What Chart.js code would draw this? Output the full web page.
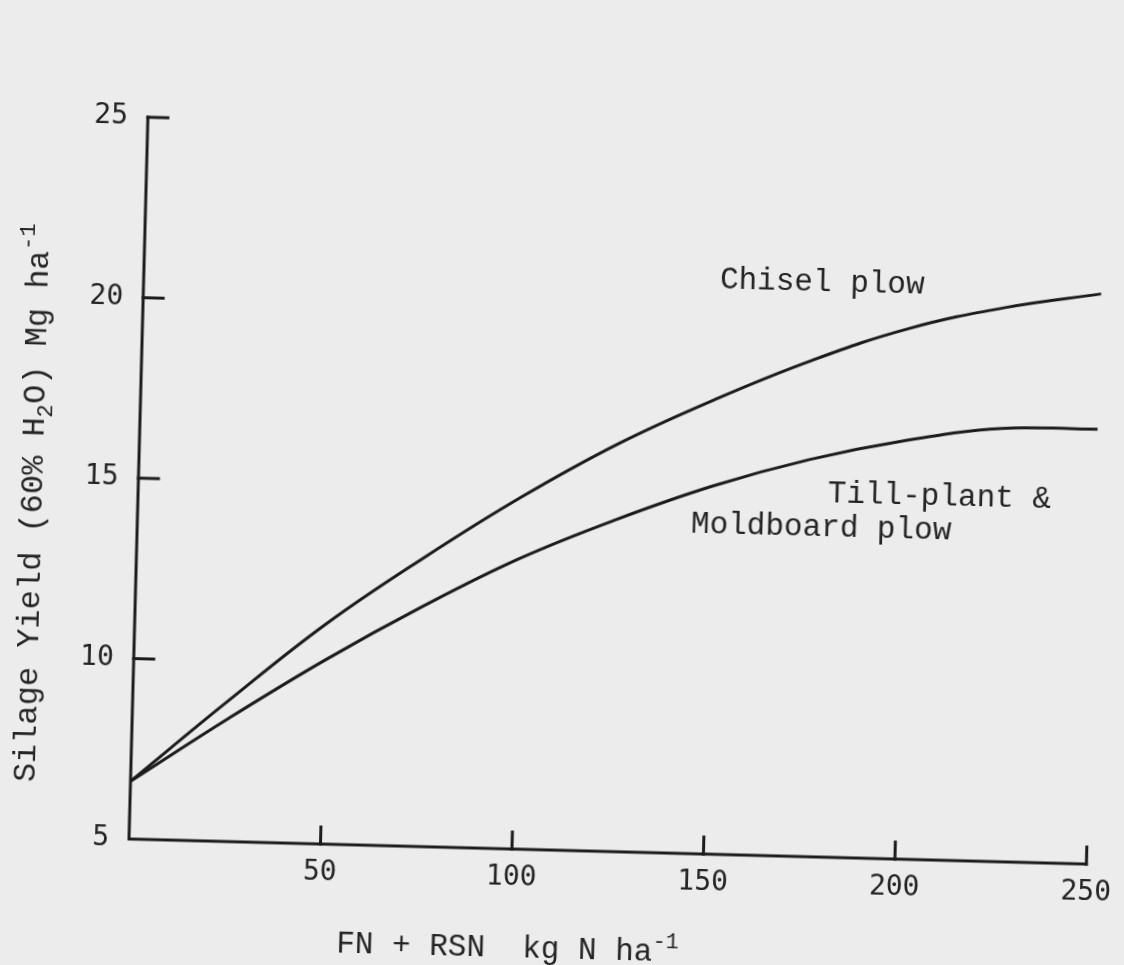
<!DOCTYPE html>
<html>
<head>
<meta charset="utf-8">
<script src="https://cdn.jsdelivr.net/npm/chart.js@4.4.1/dist/chart.umd.min.js"></script>
<style>
    html, body { margin: 0; padding: 0; background: #ececec; }
    #contenedor { width: 1124px; height: 965px; position: relative; overflow: hidden; }
    /* la hoja escaneada quedó un poco girada */
    #rendimientoChart { transform: rotate(1.5deg); transform-origin: 129px 839px; }
</style>
</head>
<body>
<div id="contenedor">
    <canvas id="rendimientoChart" width="1124" height="965"></canvas>
</div>
<script>
// N aplicado (FN + RSN), kg N/ha
const nitrogeno = [0, 25, 50, 75, 100, 125, 150, 175, 200, 225, 250];
// rendimiento de ensilaje, Mg/ha
const cincel = [6.6, 8.9, 11.1, 13.0, 14.75, 16.3, 17.6, 18.75, 19.7, 20.35, 20.8];
const labranzaVertedera = [6.6, 8.4, 10.1, 11.65, 13.05, 14.2, 15.2, 16.0, 16.6, 17.0, 17.05];

const ticksX = [50, 100, 150, 200, 250];
const ticksY = [5, 10, 15, 20, 25];

const COLOR_LINEA = '#1c1c1c';
const COLOR_TEXTO = '#242424';
const FUENTE_TEXTO = '"Liberation Mono", "Courier New", monospace';
const FUENTE_NUM = '"DejaVu Sans Mono", monospace';

// texto con sub/superíndice, trozo por trozo
function textoCompuesto(ctx, partes, x, y, tam) {
    let cx = x;
    partes.forEach(p => {
        const t = p.esc ? tam * 0.7 : tam;
        ctx.font = t + 'px ' + FUENTE_TEXTO;
        ctx.fillText(p.t, cx, y + (p.dy || 0));
        cx += ctx.measureText(p.t).width;
    });
}

const ejesPlugin = {
    id: 'ejes',
    afterDraw(chart) {
        const ctx = chart.ctx;
        const sx = chart.scales.x;
        const sy = chart.scales.y;
        const x0 = sx.getPixelForValue(0);
        const y0 = sy.getPixelForValue(5);
        const xMax = sx.getPixelForValue(250);
        const yMax = sy.getPixelForValue(25);

        ctx.save();
        ctx.strokeStyle = COLOR_LINEA;
        ctx.lineWidth = 3;
        ctx.lineCap = 'square';

        // ejes
        ctx.beginPath();
        ctx.moveTo(x0, yMax);
        ctx.lineTo(x0, y0);
        ctx.lineTo(xMax, y0);
        ctx.stroke();

        // marcas hacia adentro
        ctx.beginPath();
        ticksY.filter(v => v > 5).forEach(v => {
            const py = sy.getPixelForValue(v);
            ctx.moveTo(x0, py);
            ctx.lineTo(x0 + 20, py);
        });
        ticksX.forEach(v => {
            const px = sx.getPixelForValue(v);
            ctx.moveTo(px, y0);
            ctx.lineTo(px, y0 - 17);
        });
        ctx.stroke();

        ctx.fillStyle = COLOR_TEXTO;
        ctx.textBaseline = 'alphabetic';
        ctx.textAlign = 'left';

        // rótulos de las curvas
        ctx.font = '31px ' + FUENTE_TEXTO;
        ctx.fillText('Chisel plow', sx.getPixelForValue(150.4), sy.getPixelForValue(20.68));
        ctx.fillText('Till-plant &', sx.getPixelForValue(180), sy.getPixelForValue(14.83));
        ctx.fillText('Moldboard plow', sx.getPixelForValue(144.5), sy.getPixelForValue(13.88));

        // título eje x
        textoCompuesto(ctx, [
            { t: 'FN + RSN  kg N ha' },
            { t: '-1', esc: true, dy: -13 }
        ], sx.getPixelForValue(54.8), y0 + 108, 31);

        // título eje y (vertical)
        ctx.save();
        ctx.translate(x0 - 96, sy.getPixelForValue(6.5));
        ctx.rotate(-Math.PI / 2);
        textoCompuesto(ctx, [
            { t: 'Silage Yield (60% H' },
            { t: '2', esc: true, dy: 8 },
            { t: 'O) Mg ha' },
            { t: '-1', esc: true, dy: -14 }
        ], 0, 0, 32);
        ctx.restore();

        ctx.restore();
    }
};

const ctx = document.getElementById('rendimientoChart').getContext('2d');
new Chart(ctx, {
    type: 'line',
    data: {
        labels: nitrogeno,
        datasets: [
            {
                label: 'Chisel plow',
                data: nitrogeno.map((n, i) => ({ x: n, y: cincel[i] })),
                borderColor: COLOR_LINEA,
                borderWidth: 3,
                pointRadius: 0,
                tension: 0.4,
                fill: false
            },
            {
                label: 'Till-plant & Moldboard plow',
                data: nitrogeno.map((n, i) => ({ x: n, y: labranzaVertedera[i] })),
                borderColor: COLOR_LINEA,
                borderWidth: 3,
                pointRadius: 0,
                tension: 0.4,
                fill: false
            }
        ]
    },
    options: {
        responsive: false,
        animation: false,
        layout: {
            padding: { top: 117, right: 34, left: 0, bottom: 0 }
        },
        scales: {
            x: {
                type: 'linear',
                min: 0,
                max: 250,
                grid: { display: false, drawTicks: false },
                border: { display: false },
                afterBuildTicks: scale => { scale.ticks = ticksX.map(v => ({ value: v })); },
                afterFit: scale => { scale.height = 126; },
                ticks: {
                    color: COLOR_TEXTO,
                    font: { family: FUENTE_NUM, size: 28 },
                    padding: 12,
                    maxRotation: 0
                }
            },
            y: {
                min: 5,
                max: 25,
                grid: { display: false, drawTicks: false },
                border: { display: false },
                afterBuildTicks: scale => { scale.ticks = ticksY.map(v => ({ value: v })); },
                afterFit: scale => { scale.width = 129; },
                ticks: {
                    color: COLOR_TEXTO,
                    font: { family: FUENTE_NUM, size: 28 },
                    padding: 20
                }
            }
        },
        plugins: {
            legend: { display: false },
            tooltip: { enabled: false }
        }
    },
    plugins: [ejesPlugin]
});
</script>
</body>
</html>
